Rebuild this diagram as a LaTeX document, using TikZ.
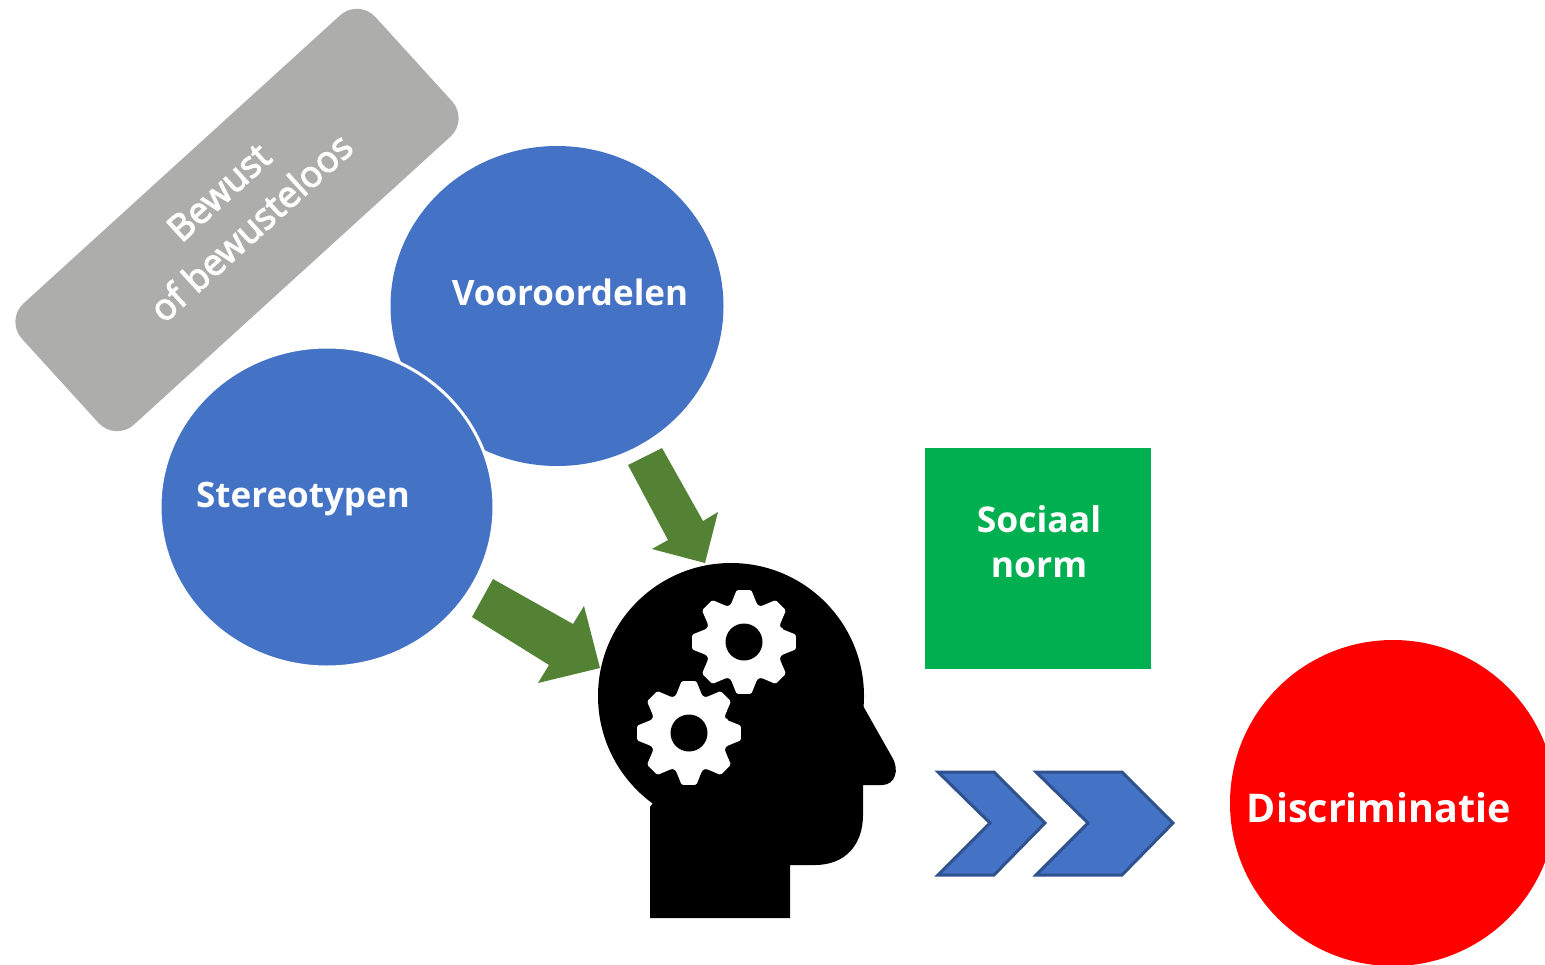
\documentclass[tikz,border=0pt]{standalone}
\usepackage{fontspec}
\setmainfont{Open Sans}
\newfontfamily\semib[FakeBold=3]{Open Sans}
\usetikzlibrary{shapes.geometric,calc}
\definecolor{cblue}{RGB}{68,114,196}
\definecolor{cblueedge}{RGB}{47,82,143}
\definecolor{cgreen}{RGB}{0,176,80}
\definecolor{carrow}{RGB}{84,130,53}
\definecolor{cgray}{RGB}{173,173,171}
\definecolor{cred}{RGB}{255,0,0}
\tikzset{
  lbl/.style={text=white, inner sep=0pt, anchor=base},
  blob/.style={ellipse, fill=cblue, inner sep=0pt},
  chev/.style={fill=cblue, draw=cblueedge, line width=3pt, line join=miter},
  blockarrow/.style={fill=carrow},
  gearfill/.style={fill=white},
}
\begin{document}
\begin{tikzpicture}[x=1pt,y=-1pt]
\useasboundingbox (0,0) rectangle (1545,964);
\clip (0,0) rectangle (1545,964);

% grey rotated box
\node[rectangle, rounded corners=25pt, fill=cgray, minimum width=478pt, minimum height=164pt, rotate=42.3, inner sep=0pt] (bew) at (237,220) {};
\node[text=white, font=\semib\fontsize{36.5}{48}\selectfont, align=center, rotate=42.3, inner sep=0pt] (bewtxt) at (235,210) {Bewust\\of bewusteloos};

% blue circles
\node[blob, minimum width=333pt, minimum height=320pt] (voor) at (557,306) {};
\node[blob, draw=white, line width=3pt, minimum width=334pt, minimum height=320pt] (ster) at (327,507) {};
\node[lbl, font=\bfseries\fontsize{35}{40}\selectfont] (voortxt) at (570,305) {Vooroordelen};
\node[lbl, font=\bfseries\fontsize{35}{40}\selectfont] (stertxt) at (303,507) {Stereotypen};

% green block arrows
\fill[blockarrow] (628,465) -- (662,448) -- (703,521) -- (718,512) -- (705,563) -- (652,549) -- (668,540) -- cycle;
\fill[blockarrow] (472,617) -- (493,579) -- (573,624) -- (584,606) -- (600,668) -- (538,683) -- (549,665) -- cycle;

% head
\coordinate (cran) at (731,696);
\fill[black] (cran) circle[radius=133pt];
\fill[black] (650,918) -- (650,807) -- (cran) -- (862,696) -- (862,704) -- (892,757)
  .. controls (900,770) and (895,785) .. (882,785) -- (863,785) -- (863,815)
  .. controls (863,845) and (845,865) .. (815,865) -- (790,865) -- (790,918) -- cycle;

% gears
\coordinate (g1) at (744,642);
\coordinate (g2) at (689,733);
\foreach \g in {g1,g2}{
  \begin{scope}[shift={(\g)}]
    \fill[gearfill, rounded corners=1.5pt] (-19:40) \foreach \a in {0,45,...,315}{ -- (\a-19:40) -- (\a-8:52.5) -- (\a+8:52.5) -- (\a+19:40) -- (\a+22.5:39) } -- cycle;
    \fill[black] (0,0) circle[radius=18.5pt];
  \end{scope}
}

% green square
\node[rectangle, fill=cgreen, minimum width=226pt, minimum height=221pt, inner sep=0pt] (soc) at (1038,558.5) {};
\node[lbl, font=\bfseries\fontsize{35.5}{45}\selectfont] (soc1) at (1039,532) {Sociaal};
\node[lbl, font=\bfseries\fontsize{35.5}{45}\selectfont] (soc2) at (1039,577) {norm};

% chevrons
\draw[chev] (938,772) -- (994,772) -- (1045,823) -- (994,875) -- (938,875) -- (990,823) -- cycle;
\draw[chev] (1036,772) -- (1122,772) -- (1173,823) -- (1122,875) -- (1036,875) -- (1088,823) -- cycle;

% red circle
\node[circle, fill=cred, minimum size=326pt, inner sep=0pt] (disc) at (1393,803) {};
\node[lbl, font=\bfseries\fontsize{39.5}{45}\selectfont] (disctxt) at (1379,822) {Discriminatie};
\end{tikzpicture}
\end{document}
